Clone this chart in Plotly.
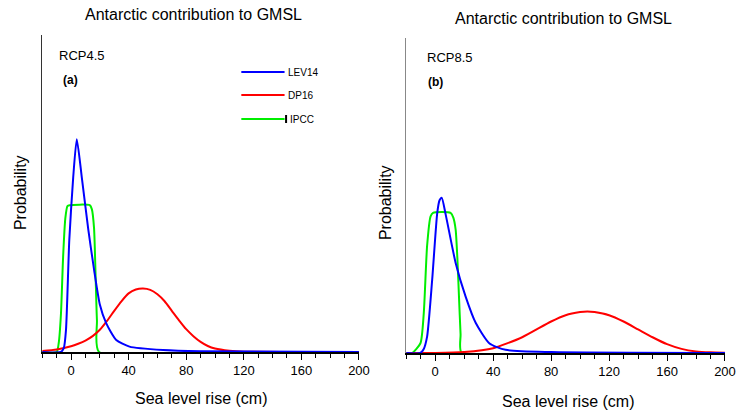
import plotly.graph_objects as go

W, H = 738, 412
W_EFF = 723.0  # horizontal extent the page is actually rendered at

# ---- data (y is relative probability, 1 = top of axis) ----
lev14_a_x = [-20, -7, -5, -3.5, -1.2, 1.5, 4, 7.5, 12, 16, 20, 24.4, 31.4, 40.6, 64, 90, 200]
lev14_a_y = [0, 0, 0.013, 0.07, 0.354, 0.55, 0.671, 0.55, 0.386, 0.26, 0.15, 0.091, 0.038, 0.017, 0.006, 0.002, 0]
dp16_a_x = [-20, -10, 0, 5, 10, 15, 20, 25, 30, 35, 40, 45, 50, 55, 60, 65, 70, 75, 80, 85, 90, 95, 100, 110, 120, 200]
dp16_a_y = [0.003, 0.008, 0.018, 0.026, 0.036, 0.05, 0.07, 0.098, 0.13, 0.16, 0.185, 0.197, 0.2, 0.196, 0.182, 0.16, 0.13, 0.1, 0.072, 0.05, 0.032, 0.019, 0.011, 0.004, 0.001, 0]
ipcc_a_x = [-20, -10, -8.5, -7, -5.5, -4, -2.5, -1, 13, 14.5, 16, 17, 18, 19.5, 200]
ipcc_a_y = [0, 0, 0.03, 0.12, 0.3, 0.42, 0.46, 0.463, 0.463, 0.45, 0.39, 0.25, 0.1, 0, 0]

lev14_b_x = [-20, -10.4, -8, -5.6, -2.1, 1.4, 3, 4.5, 7.2, 14.1, 21, 28, 37.3, 48.6, 80, 200]
lev14_b_y = [0, 0, 0.012, 0.052, 0.232, 0.445, 0.485, 0.493, 0.44, 0.286, 0.179, 0.095, 0.031, 0.01, 0.003, 0]
dp16_b_x = [-20, 0, 20, 40, 60, 80, 90, 100, 105, 110, 120, 130, 140, 150, 160, 170, 180, 190, 200]
dp16_b_y = [0, 0, 0.003, 0.015, 0.05, 0.1, 0.12, 0.13, 0.132, 0.13, 0.12, 0.1, 0.075, 0.05, 0.028, 0.013, 0.005, 0.002, 0.001]
ipcc_b_x = [-20, -16, -10.2, -7.9, -5.6, -3.2, -1.5, 10.6, 12.5, 14.1, 15.3, 16.4, 17.5, 18.3, 200]
ipcc_b_y = [0, 0, 0.031, 0.126, 0.34, 0.434, 0.445, 0.445, 0.43, 0.392, 0.3, 0.179, 0.06, 0, 0]

x_ticks = [0, 40, 80, 120, 160, 200]
series_names = ["LEV14", "DP16", "IPCC"]
series_colors = ["#0000ff", "#ff0000", "#00ee00"]

fig = go.Figure()

panels = [
    ("x", "y", [(lev14_a_x, lev14_a_y), (dp16_a_x, dp16_a_y), (ipcc_a_x, ipcc_a_y)]),
    ("x2", "y2", [(lev14_b_x, lev14_b_y), (dp16_b_x, dp16_b_y), (ipcc_b_x, ipcc_b_y)]),
]
draw_order = [2, 1, 0]  # green, red, then blue on top
for xa, ya, data in panels:
    for i in draw_order:
        xs, ys = data[i]
        fig.add_trace(go.Scatter(
            x=xs, y=ys, mode="lines", name=series_names[i], xaxis=xa, yaxis=ya,
            line=dict(color=series_colors[i], width=2, shape="spline", smoothing=0.6),
            showlegend=False, hoverinfo="skip", cliponaxis=True))

def px_x(p):
    return min(p / W_EFF, 1.0)

def px_y(p):
    return 1 - p / H

font = "Liberation Sans, Arial, Helvetica, sans-serif"

xaxis_common = dict(range=[-20, 200], tickmode="array", tickvals=x_ticks,
                    ticks="outside", ticklen=6, tickwidth=1, tickcolor="black",
                    showline=True, linecolor="black", linewidth=1.5,
                    showgrid=False, zeroline=False,
                    tickfont=dict(size=13, family=font, color="black"),
                    minor=dict(tickmode="linear", tick0=0, dtick=10, ticks="outside",
                               ticklen=4, tickcolor="black", tickwidth=1, showgrid=False))
yaxis_common = dict(range=[0, 1], showticklabels=False, ticks="", showgrid=False,
                    zeroline=False, showline=True, linewidth=1.5)

fig.update_layout(
    width=W, height=H, autosize=False, margin=dict(l=0, r=0, t=0, b=0),
    paper_bgcolor="white", plot_bgcolor="white", showlegend=False,
    font=dict(family=font, color="black"),
    xaxis=dict(domain=[px_x(42), px_x(357)], anchor="y", **xaxis_common),
    yaxis=dict(domain=[px_y(352), px_y(35)], anchor="x", linecolor="#333333", **yaxis_common),
    xaxis2=dict(domain=[px_x(404), px_x(721)], anchor="y2", **xaxis_common),
    yaxis2=dict(domain=[px_y(353), px_y(38)], anchor="x2", linecolor="#888888", **yaxis_common),
)

ann = []
def text(x, y, s, size, xanchor="center", yanchor="middle", textangle=0, bold=False):
    ann.append(dict(x=px_x(x), y=px_y(y), xref="paper", yref="paper", text=("<b>%s</b>" % s) if bold else s,
                    showarrow=False, xanchor=xanchor, yanchor=yanchor, textangle=textangle,
                    font=dict(size=size, family=font, color="black")))

text(192, 15, "Antarctic contribution to GMSL", 16)
text(560, 19, "Antarctic contribution to GMSL", 16)
text(200, 398, "Sea level rise (cm)", 16)
text(565, 401, "Sea level rise (cm)", 16)
text(20, 193, "Probability", 16, textangle=-90)
text(383, 203, "Probability", 16, textangle=-90)
text(57, 56, "RCP4.5", 13, xanchor="left")
text(61, 80, "(a)", 12, xanchor="left", bold=True)
text(423, 57, "RCP8.5", 13, xanchor="left")
text(424, 82, "(b)", 12, xanchor="left", bold=True)

shapes = []
leg_y = [72, 95, 119]
for name, col, yy in zip(series_names, series_colors, leg_y):
    shapes.append(dict(type="line", xref="paper", yref="paper",
                       x0=px_x(240), x1=px_x(283), y0=px_y(yy), y1=px_y(yy),
                       line=dict(color=col, width=2)))
    text(284 if name != "IPCC" else 286, yy, name, 10, xanchor="left")
shapes.append(dict(type="line", xref="paper", yref="paper",
                   x0=px_x(284.5), x1=px_x(284.5), y0=px_y(115), y1=px_y(123),
                   line=dict(color="black", width=2)))

fig.update_layout(annotations=ann, shapes=shapes)
post = (
    "var s=document.createElement('style');"
    "s.textContent='html,body{margin:0!important;padding:0!important;overflow:hidden!important;}';"
    "document.head.appendChild(s);"
)
fig.write_html(
    "out.html",
    config={"responsive": False, "displayModeBar": False, "staticPlot": True},
    post_script=post,
)
